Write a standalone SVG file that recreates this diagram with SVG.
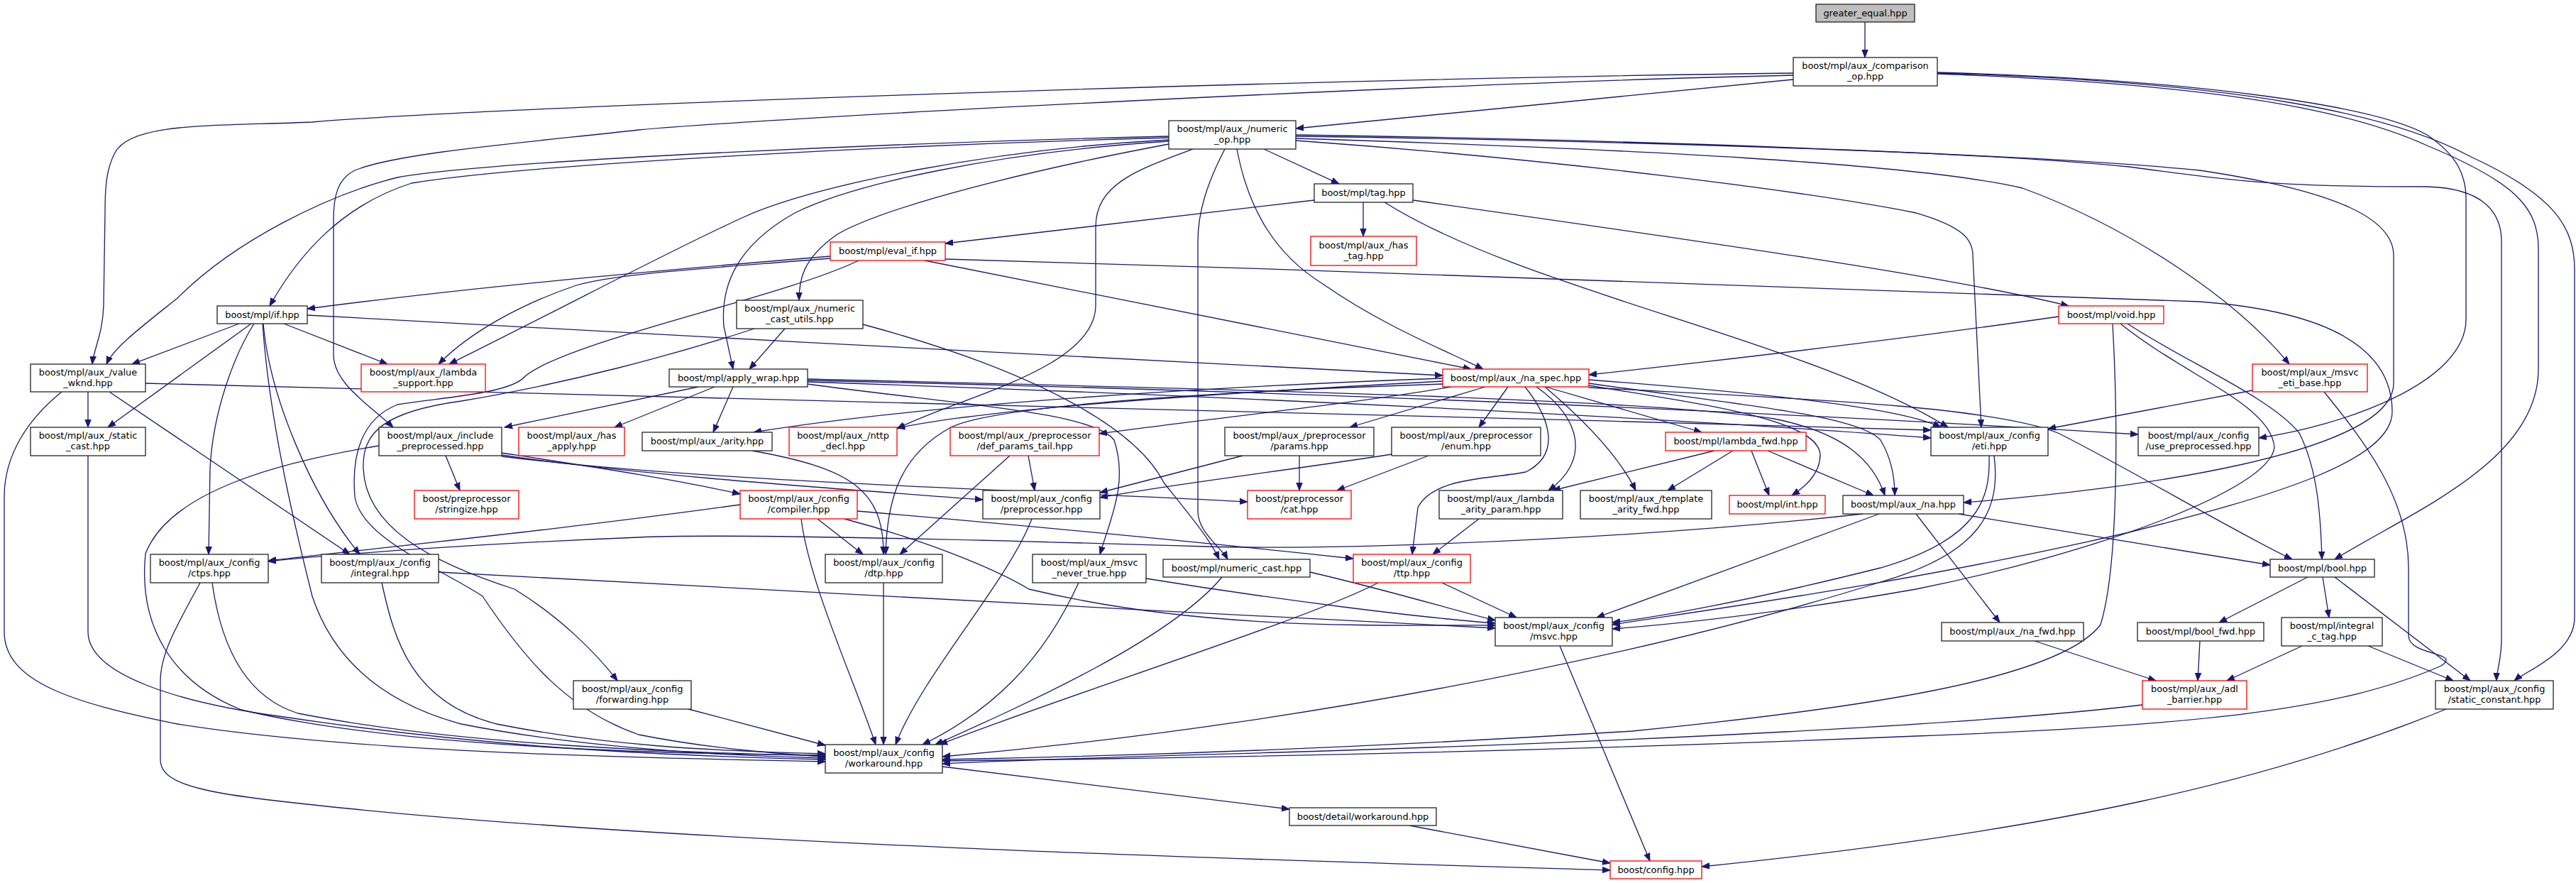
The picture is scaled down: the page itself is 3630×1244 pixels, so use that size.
<svg xmlns="http://www.w3.org/2000/svg" width="3630" height="1244" viewBox="0 0 3630 1244">
<style>
.node rect{fill:#fff;stroke:#222;stroke-width:1.3}
.node.r rect{stroke:#f00}
.node.g rect{fill:#bfbfbf}
.node text{font-family:"DejaVu Sans",sans-serif;font-size:12.9px;text-anchor:middle;fill:#000}
#edges path{fill:none;stroke:#191970;stroke-width:1.3;marker-end:url(#a)}
</style>
<defs>
<marker id="a" markerUnits="userSpaceOnUse" markerWidth="12" markerHeight="10" refX="11" refY="5" orient="auto"><path d="M0,0.8 L11,5 L0,9.2 z" fill="#191970" stroke="#191970" stroke-width="1"/></marker>
</defs>
<rect width="3630" height="1244" fill="#fff"/>
<g id="edges">
<path d="M2628,31 L2628,81"/>
<path d="M2527,112 L1826,181"/>
<path d="M2527,103 C1800,112 700,150 440,172 C300,178 185,172 162,215 C150,238 148,262 148,300 L146,430 C145,470 132,492 130,513"/>
<path d="M2527,106 C2000,118 1100,165 900,183 C750,200 560,215 500,240 C476,252 470,275 470,310 L470,500 C470,540 520,570 554,602"/>
<path d="M2730,102 C3100,112 3350,150 3420,190 C3465,220 3475,250 3475,280 L3475,450 C3475,540 3300,600 3183,617"/>
<path d="M2730,104 C3100,118 3300,150 3420,205 C3540,255 3577,290 3577,350 L3577,520 C3577,650 3400,720 3290,788"/>
<path d="M2730,103 C3150,115 3370,160 3480,220 C3600,275 3628,320 3628,380 L3628,870 C3628,920 3560,945 3543,959"/>
<path d="M1647,192 C1300,200 700,225 560,250 C460,275 330,340 250,420 C200,460 160,490 150,513"/>
<path d="M1647,194 C1300,203 750,230 580,258 C480,290 420,360 380,431"/>
<path d="M1647,197 C1400,210 1150,260 1050,305 C950,350 820,420 633,513"/>
<path d="M1647,199 C1400,215 1200,260 1120,300 C1040,345 1015,400 1020,460 L1033,520"/>
<path d="M1647,203 C1450,240 1250,290 1180,330 C1130,365 1126,395 1126,423"/>
<path d="M1681,210 C1600,240 1544,260 1544,320 L1544,430 C1544,520 1350,560 1264,604"/>
<path d="M1726,210 C1700,260 1688,300 1688,340 L1688,720 C1688,750 1720,770 1730,788"/>
<path d="M1743,210 C1760,300 1800,360 1864,400 C1950,460 2040,495 2090,520"/>
<path d="M1781,210 L1887,259"/>
<path d="M1826,190 C2300,197 2800,215 3000,235 C3150,255 3200,263 3420,263 C3500,265 3525,300 3525,340 L3525,900 C3525,930 3518,945 3518,959"/>
<path d="M1826,192 C2400,200 2900,220 3100,240 C3300,270 3373,310 3373,360 L3373,540 C3373,640 3000,690 2767,708"/>
<path d="M1826,195 C2300,210 2700,230 2850,265 C3000,320 3150,420 3226,513"/>
<path d="M1826,198 C2200,225 2550,270 2700,300 C2770,320 2780,340 2780,360 L2792,602"/>
<path d="M1852,282 L1332,343"/>
<path d="M1921,285 L1921,333"/>
<path d="M1991,282 C2400,340 2750,390 2915,431"/>
<path d="M1951,285 C2150,410 2550,480 2745,602"/>
<path d="M1170,361 C1000,375 700,400 433,435"/>
<path d="M1170,364 C1000,378 870,385 812,402 C730,430 660,470 618,513"/>
<path d="M1303,367 L2073,520"/>
<path d="M1332,365 C2000,385 2800,410 3100,425 C3300,440 3371,500 3371,580 C3371,650 3200,700 3000,750 C2700,820 2400,860 2272,880"/>
<path d="M1210,367 C1100,420 800,480 740,530 C720,555 620,560 560,570 C510,590 495,640 500,700 C510,760 620,800 680,840 C740,930 800,1000 900,1035 C1000,1055 1100,1062 1163,1066"/>
<path d="M337,456 L186,513"/>
<path d="M354,456 L152,602"/>
<path d="M400,456 L546,513"/>
<path d="M358,456 C330,500 300,580 296,660 L294,781"/>
<path d="M371,456 C380,560 440,700 507,781"/>
<path d="M370,456 C380,600 420,760 440,840 C470,930 540,990 650,1020 C800,1050 1000,1065 1163,1068"/>
<path d="M433,444 C900,472 1700,510 2033,529"/>
<path d="M124,552 L124,602"/>
<path d="M154,552 L493,781"/>
<path d="M205,540 C800,562 1800,578 2721,606"/>
<path d="M87,552 C40,590 6,640 6,700 L6,890 C6,960 100,990 250,1020 C500,1060 900,1068 1163,1073"/>
<path d="M124,642 L124,890 C124,950 250,990 400,1010 C700,1055 950,1065 1163,1070"/>
<path d="M628,642 L648,691"/>
<path d="M534,628 C400,650 240,690 205,780 C195,880 240,960 340,1000 C550,1050 900,1062 1163,1064"/>
<path d="M707,638 C850,660 950,675 1043,696"/>
<path d="M707,641 C900,670 1200,690 1385,704"/>
<path d="M707,643 C1000,680 1500,692 1758,707"/>
<path d="M1033,545 L1005,609"/>
<path d="M1007,545 L866,602"/>
<path d="M984,545 L711,602"/>
<path d="M1138,541 C1350,570 1540,580 1570,620 C1590,680 1565,730 1550,781"/>
<path d="M1138,534 C1700,548 2300,560 2500,590 C2600,610 2640,650 2656,698"/>
<path d="M1138,536 C1800,550 2500,580 3013,612"/>
<path d="M1138,538 C1800,560 2400,592 2721,617"/>
<path d="M2033,533 C1700,545 1300,570 1062,609"/>
<path d="M2033,537 C1700,555 1400,575 1264,603"/>
<path d="M2045,545 C1900,570 1700,590 1549,611"/>
<path d="M2033,541 C1700,552 1400,572 1340,602 C1270,640 1250,700 1248,781"/>
<path d="M2093,545 L1902,602"/>
<path d="M2125,545 L2084,602"/>
<path d="M2149,545 C2185,590 2200,640 2150,665 C2100,675 2020,672 1998,715 L1990,781"/>
<path d="M2165,545 C2230,590 2240,650 2182,691"/>
<path d="M2177,545 C2230,590 2280,640 2305,691"/>
<path d="M2178,545 L2398,609"/>
<path d="M2239,543 C2400,570 2560,590 2565,640 C2565,670 2540,688 2525,698"/>
<path d="M2239,540 C2450,570 2620,585 2650,620 C2668,650 2670,680 2670,698"/>
<path d="M2239,535 C2500,555 2680,575 2735,602"/>
<path d="M2239,546 C2500,560 2800,570 2900,610 C3000,660 3150,750 3230,788"/>
<path d="M2416,635 L2188,691"/>
<path d="M2442,635 L2350,691"/>
<path d="M2468,635 L2493,698"/>
<path d="M2491,635 L2640,698"/>
<path d="M1423,642 L1268,781"/>
<path d="M1449,642 L1458,691"/>
<path d="M1751,642 L1550,694"/>
<path d="M1831,642 L1831,691"/>
<path d="M1961,640 C1800,665 1650,682 1550,701"/>
<path d="M2013,642 L1884,691"/>
<path d="M1060,635 C1200,660 1245,690 1245,781"/>
<path d="M1043,711 C800,745 550,770 378,790"/>
<path d="M1152,731 L1216,781"/>
<path d="M1208,720 C1500,745 1750,770 1907,787"/>
<path d="M1190,731 C1300,760 1400,800 1450,830 C1700,890 1950,880 2107,881"/>
<path d="M1129,731 C1140,820 1200,950 1234,1049"/>
<path d="M1454,731 C1420,820 1300,950 1262,1049"/>
<path d="M2084,731 L2019,781"/>
<path d="M2700,724 L2818,877"/>
<path d="M2760,724 L3199,796"/>
<path d="M2625,724 C2300,760 1900,775 1700,770 C1300,758 1000,752 900,757 C700,765 500,778 378,791"/>
<path d="M2648,724 L2250,870"/>
<path d="M2803,642 C2805,700 2790,760 2650,800 C2450,850 2330,870 2272,877"/>
<path d="M2810,642 C2820,720 2790,780 2650,820 C2300,930 1800,1025 1328,1066"/>
<path d="M2901,446 C2700,475 2450,505 2239,528"/>
<path d="M2998,456 C3080,510 3200,560 3240,610 C3265,660 3270,720 3272,788"/>
<path d="M2988,456 C3080,530 3200,570 3205,630 C3200,690 2950,780 2700,830 C2500,865 2350,880 2272,886"/>
<path d="M2977,456 C2985,600 2985,800 2960,880 C2900,960 2600,1000 2300,1030 C1900,1055 1600,1065 1328,1070"/>
<path d="M3174,550 L2886,604"/>
<path d="M3275,552 C3330,620 3394,700 3394,800 L3394,895 C3394,925 3470,918 3440,938 C3300,1000 3100,1022 2700,1037 C2200,1058 1700,1068 1328,1072"/>
<path d="M3019,993 C2800,1020 2300,1045 1800,1060 C1600,1066 1450,1070 1328,1076"/>
<path d="M3252,813 L3127,877"/>
<path d="M3273,813 L3282,870"/>
<path d="M3290,813 L3481,959"/>
<path d="M2867,903 L3038,959"/>
<path d="M3100,903 L3097,959"/>
<path d="M3244,910 L3138,959"/>
<path d="M3337,910 L3457,959"/>
<path d="M3447,999 C3200,1100 2900,1170 2398,1221"/>
<path d="M1328,1080 L1817,1140"/>
<path d="M1986,1163 L2269,1216"/>
<path d="M2198,910 L2325,1213"/>
<path d="M282,821 C250,880 226,920 226,960 L226,1070 C226,1110 300,1120 500,1140 C1000,1190 1800,1212 2269,1226"/>
<path d="M299,821 C310,900 340,980 420,1005 C650,1050 950,1060 1163,1065"/>
<path d="M538,821 C555,900 580,990 700,1020 C850,1050 1000,1058 1163,1062"/>
<path d="M618,806 C1000,825 1600,860 2107,885"/>
<path d="M1245,821 L1245,1049"/>
<path d="M1520,821 C1470,930 1400,1000 1300,1049"/>
<path d="M1615,815 C1800,845 2000,870 2107,878"/>
<path d="M1722,813 C1650,900 1450,990 1318,1049"/>
<path d="M1846,806 C1950,830 2050,860 2107,874"/>
<path d="M1942,821 C1850,870 1500,980 1324,1049"/>
<path d="M2032,821 L2137,870"/>
<path d="M970,999 L1163,1050"/>
<path d="M1063,463 C950,500 800,540 650,565 C540,580 510,610 512,660 C515,740 600,790 725,830 C790,870 840,920 870,959"/>
<path d="M1106,463 L1056,520"/>
<path d="M1216,457 C1450,520 1600,600 1640,680 C1680,730 1705,760 1718,788"/>
</g>
<g id="n-greater_equal" class="node g"><rect x="2559" y="6" width="139" height="25"/><text x="2628.5" y="22.5">greater_equal.hpp</text></g>
<g id="n-comparison_op" class="node"><rect x="2527" y="81" width="203" height="40"/><text x="2628.5" y="97">boost/mpl/aux_/comparison</text><text x="2628.5" y="112">_op.hpp</text></g>
<g id="n-numeric_op" class="node"><rect x="1647" y="170" width="179" height="40"/><text x="1736.5" y="186">boost/mpl/aux_/numeric</text><text x="1736.5" y="201">_op.hpp</text></g>
<g id="n-tag" class="node"><rect x="1852" y="259" width="139" height="26"/><text x="1921.5" y="276">boost/mpl/tag.hpp</text></g>
<g id="n-has_tag" class="node r"><rect x="1847" y="333" width="149" height="41"/><text x="1921.5" y="349.5">boost/mpl/aux_/has</text><text x="1921.5" y="364.5">_tag.hpp</text></g>
<g id="n-eval_if" class="node r"><rect x="1170" y="341" width="162" height="26"/><text x="1251" y="358">boost/mpl/eval_if.hpp</text></g>
<g id="n-if" class="node"><rect x="306" y="431" width="127" height="25"/><text x="369.5" y="447.5">boost/mpl/if.hpp</text></g>
<g id="n-numeric_cast_utils" class="node"><rect x="1038" y="423" width="178" height="40"/><text x="1127" y="439">boost/mpl/aux_/numeric</text><text x="1127" y="454">_cast_utils.hpp</text></g>
<g id="n-void" class="node r"><rect x="2901" y="431" width="148" height="25"/><text x="2975" y="447.5">boost/mpl/void.hpp</text></g>
<g id="n-value_wknd" class="node"><rect x="43" y="513" width="162" height="39"/><text x="124" y="529">boost/mpl/aux_/value</text><text x="124" y="544">_wknd.hpp</text></g>
<g id="n-lambda_support" class="node r"><rect x="509" y="513" width="175" height="39"/><text x="596.5" y="529">boost/mpl/aux_/lambda</text><text x="596.5" y="544">_support.hpp</text></g>
<g id="n-apply_wrap" class="node"><rect x="943" y="520" width="195" height="25"/><text x="1040.5" y="536.5">boost/mpl/apply_wrap.hpp</text></g>
<g id="n-na_spec" class="node r"><rect x="2033" y="520" width="206" height="25"/><text x="2136" y="536.5">boost/mpl/aux_/na_spec.hpp</text></g>
<g id="n-msvc_eti_base" class="node r"><rect x="3174" y="513" width="162" height="39"/><text x="3255" y="529">boost/mpl/aux_/msvc</text><text x="3255" y="544">_eti_base.hpp</text></g>
<g id="n-static_cast" class="node"><rect x="43" y="602" width="162" height="40"/><text x="124" y="618">boost/mpl/aux_/static</text><text x="124" y="633">_cast.hpp</text></g>
<g id="n-include_preprocessed" class="node"><rect x="534" y="602" width="173" height="40"/><text x="620.5" y="618">boost/mpl/aux_/include</text><text x="620.5" y="633">_preprocessed.hpp</text></g>
<g id="n-has_apply" class="node r"><rect x="731" y="602" width="149" height="40"/><text x="805.5" y="618">boost/mpl/aux_/has</text><text x="805.5" y="633">_apply.hpp</text></g>
<g id="n-arity" class="node"><rect x="905" y="609" width="183" height="26"/><text x="996.5" y="626">boost/mpl/aux_/arity.hpp</text></g>
<g id="n-nttp_decl" class="node r"><rect x="1112" y="602" width="152" height="40"/><text x="1188" y="618">boost/mpl/aux_/nttp</text><text x="1188" y="633">_decl.hpp</text></g>
<g id="n-def_params_tail" class="node r"><rect x="1339" y="602" width="210" height="40"/><text x="1444" y="618">boost/mpl/aux_/preprocessor</text><text x="1444" y="633">/def_params_tail.hpp</text></g>
<g id="n-params" class="node"><rect x="1726" y="602" width="210" height="40"/><text x="1831" y="618">boost/mpl/aux_/preprocessor</text><text x="1831" y="633">/params.hpp</text></g>
<g id="n-enum" class="node"><rect x="1961" y="602" width="210" height="40"/><text x="2066" y="618">boost/mpl/aux_/preprocessor</text><text x="2066" y="633">/enum.hpp</text></g>
<g id="n-lambda_fwd" class="node r"><rect x="2347" y="609" width="198" height="26"/><text x="2446" y="626">boost/mpl/lambda_fwd.hpp</text></g>
<g id="n-eti" class="node"><rect x="2721" y="602" width="165" height="40"/><text x="2803.5" y="618">boost/mpl/aux_/config</text><text x="2803.5" y="633">/eti.hpp</text></g>
<g id="n-use_preprocessed" class="node"><rect x="3013" y="602" width="170" height="40"/><text x="3098" y="618">boost/mpl/aux_/config</text><text x="3098" y="633">/use_preprocessed.hpp</text></g>
<g id="n-stringize" class="node r"><rect x="584" y="691" width="147" height="40"/><text x="657.5" y="707">boost/preprocessor</text><text x="657.5" y="722">/stringize.hpp</text></g>
<g id="n-compiler" class="node r"><rect x="1043" y="691" width="165" height="40"/><text x="1125.5" y="707">boost/mpl/aux_/config</text><text x="1125.5" y="722">/compiler.hpp</text></g>
<g id="n-preprocessor" class="node"><rect x="1385" y="691" width="165" height="40"/><text x="1467.5" y="707">boost/mpl/aux_/config</text><text x="1467.5" y="722">/preprocessor.hpp</text></g>
<g id="n-cat" class="node r"><rect x="1758" y="691" width="146" height="40"/><text x="1831" y="707">boost/preprocessor</text><text x="1831" y="722">/cat.hpp</text></g>
<g id="n-lambda_arity_param" class="node"><rect x="2028" y="691" width="174" height="40"/><text x="2115" y="707">boost/mpl/aux_/lambda</text><text x="2115" y="722">_arity_param.hpp</text></g>
<g id="n-template_arity_fwd" class="node"><rect x="2227" y="691" width="185" height="40"/><text x="2319.5" y="707">boost/mpl/aux_/template</text><text x="2319.5" y="722">_arity_fwd.hpp</text></g>
<g id="n-int" class="node r"><rect x="2437" y="698" width="135" height="26"/><text x="2504.5" y="715">boost/mpl/int.hpp</text></g>
<g id="n-na" class="node"><rect x="2597" y="698" width="170" height="26"/><text x="2682" y="715">boost/mpl/aux_/na.hpp</text></g>
<g id="n-ctps" class="node"><rect x="212" y="781" width="166" height="40"/><text x="295" y="797">boost/mpl/aux_/config</text><text x="295" y="812">/ctps.hpp</text></g>
<g id="n-integral" class="node"><rect x="453" y="781" width="165" height="40"/><text x="535.5" y="797">boost/mpl/aux_/config</text><text x="535.5" y="812">/integral.hpp</text></g>
<g id="n-dtp" class="node"><rect x="1163" y="781" width="165" height="40"/><text x="1245.5" y="797">boost/mpl/aux_/config</text><text x="1245.5" y="812">/dtp.hpp</text></g>
<g id="n-msvc_never_true" class="node"><rect x="1455" y="781" width="160" height="40"/><text x="1535" y="797">boost/mpl/aux_/msvc</text><text x="1535" y="812">_never_true.hpp</text></g>
<g id="n-numeric_cast" class="node"><rect x="1639" y="788" width="207" height="25"/><text x="1742.5" y="804.5">boost/mpl/numeric_cast.hpp</text></g>
<g id="n-ttp" class="node r"><rect x="1907" y="781" width="165" height="40"/><text x="1989.5" y="797">boost/mpl/aux_/config</text><text x="1989.5" y="812">/ttp.hpp</text></g>
<g id="n-bool" class="node"><rect x="3199" y="788" width="147" height="25"/><text x="3272.5" y="804.5">boost/mpl/bool.hpp</text></g>
<g id="n-msvc" class="node"><rect x="2107" y="870" width="165" height="40"/><text x="2189.5" y="886">boost/mpl/aux_/config</text><text x="2189.5" y="901">/msvc.hpp</text></g>
<g id="n-na_fwd" class="node"><rect x="2736" y="877" width="200" height="26"/><text x="2836" y="894">boost/mpl/aux_/na_fwd.hpp</text></g>
<g id="n-bool_fwd" class="node"><rect x="3012" y="877" width="178" height="26"/><text x="3101" y="894">boost/mpl/bool_fwd.hpp</text></g>
<g id="n-integral_c_tag" class="node"><rect x="3215" y="870" width="142" height="40"/><text x="3286" y="886">boost/mpl/integral</text><text x="3286" y="901">_c_tag.hpp</text></g>
<g id="n-forwarding" class="node"><rect x="808" y="959" width="166" height="40"/><text x="891" y="975">boost/mpl/aux_/config</text><text x="891" y="990">/forwarding.hpp</text></g>
<g id="n-adl_barrier" class="node r"><rect x="3019" y="959" width="147" height="40"/><text x="3092.5" y="975">boost/mpl/aux_/adl</text><text x="3092.5" y="990">_barrier.hpp</text></g>
<g id="n-static_constant" class="node"><rect x="3432" y="959" width="166" height="40"/><text x="3515" y="975">boost/mpl/aux_/config</text><text x="3515" y="990">/static_constant.hpp</text></g>
<g id="n-workaround" class="node"><rect x="1163" y="1049" width="165" height="40"/><text x="1245.5" y="1065">boost/mpl/aux_/config</text><text x="1245.5" y="1080">/workaround.hpp</text></g>
<g id="n-detail_workaround" class="node"><rect x="1817" y="1138" width="207" height="25"/><text x="1920.5" y="1154.5">boost/detail/workaround.hpp</text></g>
<g id="n-config" class="node r"><rect x="2269" y="1213" width="129" height="25"/><text x="2333.5" y="1229.5">boost/config.hpp</text></g>
</svg>
